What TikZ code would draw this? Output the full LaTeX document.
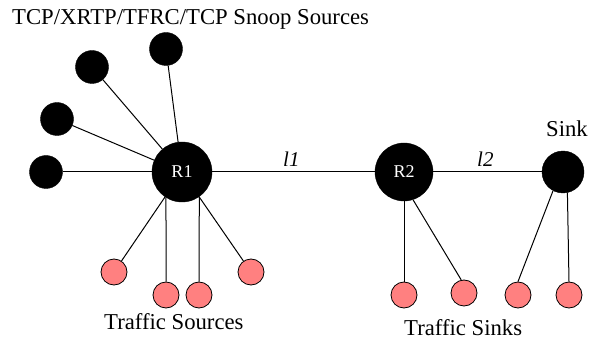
\documentclass[tikz,border=0pt]{standalone}
\usepackage{fontspec}
\setmainfont{Liberation Serif}
\definecolor{pinkfill}{RGB}{255,128,128}
\begin{document}
\begin{tikzpicture}[x=1pt,y=-1pt,
  blk/.style={circle,fill=black,draw=black,inner sep=0pt,minimum size=#1},
  red/.style={circle,fill=pinkfill,draw=black,line width=0.8pt,inner sep=0pt,minimum size=26pt},
  lnk/.style={draw=black,line width=1pt},
  lbl/.style={inner sep=0pt,anchor=base west,font=\fontsize{22.7}{27}\selectfont},
  ll/.style={inner sep=0pt,anchor=base west,font=\fontsize{21}{25}\selectfont\itshape},
  rl/.style={text=white,font=\fontsize{18}{22}\selectfont}]
\useasboundingbox (0,0) rectangle (589,339);
% sources
\node[blk=33pt] (s1) at (46,172) {};
\node[blk=33pt] (s2) at (57,119) {};
\node[blk=33pt] (s3) at (92,67) {};
\node[blk=33pt] (s4) at (166,49) {};
% routers
\node[blk=60pt,rl] (R1) at (182,172) {R1};
\node[blk=58pt,rl] (R2) at (404,172) {R2};
\node[blk=42pt] (sink) at (563,172) {};
% red
\node[red] (a1) at (114,272) {};
\node[red] (a2) at (166,295) {};
\node[red] (a3) at (199,295) {};
\node[red] (a4) at (251,272) {};
\node[red] (b1) at (404,295) {};
\node[red] (b2) at (464,293) {};
\node[red] (b3) at (518,295) {};
\node[red] (b4) at (569,295) {};
% links
\draw[lnk] (s1) -- (R1);
\draw[lnk] (s2) -- (R1);
\draw[lnk] (s3) -- (R1);
\draw[lnk] (s4) -- (R1);
\draw[lnk] (R1) -- (R2);
\draw[lnk] (R2) -- (sink);
\draw[lnk] (R1) -- (a1);
\draw[lnk] (R1.-122) -- (a2.north);
\draw[lnk] (R1.-55) -- (a3.north);
\draw[lnk] (R1) -- (a4);
\draw[lnk] (R2.south) -- (b1.north);
\draw[lnk] (R2.-72) -- (b2.102);
\draw[lnk] (sink.-118) -- (b3.north);
\draw[lnk] (sink.-78) -- (b4.north);
% labels
\node[lbl] (t1) at (12,25) {TCP/XRTP/TFRC/TCP Snoop Sources};
\node[lbl] (t2) at (104,329) {Traffic Sources};
\node[lbl] (t3) at (404,335) {Traffic Sinks};
\node[lbl] (t4) at (546,137) {Sink};
\node[ll] (l1) at (283,167) {l1};
\node[ll] (l2) at (477,167) {l2};
\end{tikzpicture}
\end{document}
